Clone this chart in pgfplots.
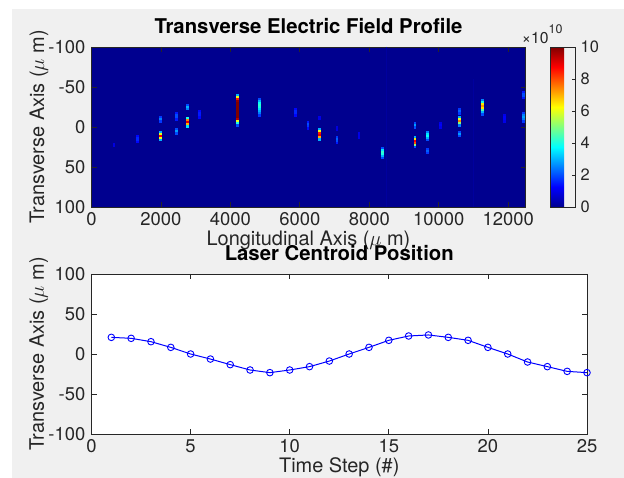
\documentclass[border=0pt]{standalone}
\usepackage{pgfplots}
\pgfplotsset{compat=1.18}
\usepackage{pgfplotstable}
\usepackage{fontspec}
\setmainfont{TeX Gyre Heros}
\definecolor{figgray}{rgb}{0.94,0.94,0.94}
\definecolor{axgray}{rgb}{0.15,0.15,0.15}
\definecolor{jetbg}{RGB}{0,0,143}
\definecolor{faintblue}{RGB}{0,0,158}

\pgfplotstableread{
x y c
640 21 0.9
640 23.5 0.9
1320 11 1.3
1320 13.5 1.6
1320 16 1.6
1320 18.5 1.3
1970 -12 1.8
1970 -9.5 2.5
1970 -7 1.8
1970 6 3
1970 8.5 6
1970 11 8.8
1970 13.5 6
1970 16 3
2430 -17 1.5
2430 -14.5 2
2430 -12 2
2430 -9.5 1.5
2430 3 2
2430 5.5 2.8
2430 8 2
2750 -28 2
2750 -25.5 3
2750 -23 2.5
2750 -11 4
2750 -8.5 7.5
2750 -6 9
2750 -3.5 7
2750 -1 3.5
3110 -20 1.3
3110 -17.5 1.5
3110 -15 1.5
3110 -12.5 1.3
4200 -40 3
4200 -37.5 6
4200 -35 8.5
4200 -32.5 9.8
4200 -30 10
4200 -27.5 10
4200 -25 10
4200 -22.5 10
4200 -20 10
4200 -17.5 10
4200 -15 10
4200 -12.5 10
4200 -10 9.5
4200 -7.5 6
4200 -5 4
4200 -2.5 2
4820 -35 2
4820 -32.5 3
4820 -30 3.8
4820 -27.5 4.2
4820 -25 4
4820 -22.5 3.5
4820 -20 3
4820 -17.5 2.5
4820 -15 1.8
5860 -22 1.3
5860 -19.5 1.6
5860 -17 1.6
5860 -14.5 1.3
6230 -6 1.5
6230 -3.5 2
6230 -1 1.8
6230 1.5 1.3
6560 -13 1
6560 -10.5 1
6560 3 3
6560 5.5 6
6560 8 8.5
6560 10.5 9
6560 13 7
6560 15.5 3
7060 0 0.9
7060 2.5 0.9
7060 12 1.8
7060 14.5 2.2
7060 17 2
7060 19.5 1.5
7700 8 1
7700 10.5 1
7700 13 1
8370 26 2
8370 28.5 3.5
8370 31 4.2
8370 33.5 4
8370 36 3
8370 38.5 2
9310 -4.5 2
9310 -2 2.8
9310 0.5 2
9310 12 3
9310 14.5 6.5
9310 17 8.8
9310 19.5 8
9310 22 5
9310 24.5 2
9675 6 2.5
9675 8.5 3.5
9675 11 3.8
9675 13.5 3
9675 16 2
9675 27 1.8
9675 29.5 2.2
9675 32 1.8
10040 -5 1
10040 -2.5 1.2
10040 0 1
10600 -22.5 1.8
10600 -20 2.2
10600 -17.5 1.8
10600 -12 3
10600 -9.5 6
10600 -7 7.5
10600 -4.5 5
10600 -2 2.5
10600 6 2
10600 8.5 2.8
10600 11 2
11260 -33.5 2.5
11260 -31 4
11260 -28.5 6.5
11260 -26 7.2
11260 -23.5 6.5
11260 -21 4.5
11260 -18.5 3
11260 -16 2
11880 -15 1
11880 -12.5 1.2
11880 -10 1.2
11880 -7.5 1
12430 -44 1.5
12430 -41.5 2
12430 -39 2
12430 -36.5 1.5
12430 -17 1.8
12430 -14.5 2.5
12430 -12 2.8
12430 -9.5 2.5
12430 -7 1.8
}\streaks

\pgfplotstableread{
t pos
1 20.8
2 19.6
3 15.4
4 8.3
5 0
6 -6.3
7 -13.3
8 -20
9 -23.3
10 -20
11 -15.8
12 -8.8
13 0
14 8.3
15 17.1
16 22.5
17 23.8
18 20.8
19 17.1
20 8.3
21 0
22 -10
23 -15.8
24 -21.7
25 -23.3
}\centroid

\pgfplotsset{
  mystyle/.style={
    scale only axis,
    axis line style={axgray, line width=0.8bp},
    tick style={axgray, line width=0.7bp},
    major tick length=5bp,
    tick align=inside,
    tick pos=both,
    /pgf/number format/assume math mode=true,
    /pgf/number format/1000 sep={},
    scaled ticks=false,
    tick label style={font=\fontsize{18.5}{20}\selectfont, text=axgray},
    xticklabel style={inner sep=0pt, anchor=north, yshift=-5.7bp},
    yticklabel style={inner sep=0pt, anchor=east, xshift=-6bp},
    label style={font=\fontsize{20}{22}\selectfont, text=axgray},
    title style={font=\bfseries\fontsize{20.4}{22}\selectfont, anchor=base, text=black},
  }
}

\begin{document}
\begin{tikzpicture}
\path[use as bounding box] (0bp,0bp) rectangle (624bp,478bp);
\fill[white] (0bp,0bp) rectangle (624bp,478bp);
\fill[figgray] (12bp,0bp) rectangle (624bp,469bp);
\begin{axis}[mystyle,
  at={(91.5bp,271bp)}, anchor=south west,
  width=434bp, height=160bp,
  xmin=0, xmax=12500, ymin=-100, ymax=100, y dir=reverse,
  xtick={0,2000,...,12000}, ytick={-100,-50,0,50,100},
  axis background/.style={fill=jetbg},
  colormap={mjet}{rgb255(0cm)=(0,0,143); rgb255(1cm)=(0,0,255); rgb255(3cm)=(0,255,255); rgb255(5cm)=(255,255,0); rgb255(7cm)=(255,0,0); rgb255(8cm)=(128,0,0)},
  point meta min=0, point meta max=10,
  colorbar,
  colorbar style={
    at={(parent axis.north east)}, anchor=north west, xshift=16bp,
    scale only axis, width=25bp, height=160bp,
    axis line style={axgray, line width=0.8bp},
    ytick={0,2,...,10}, xtick=\empty,
    ytick pos=right, yticklabel pos=right,
    tick align=inside, major tick length=3bp,
    tick style={axgray, line width=0.7bp},
    /pgf/number format/assume math mode=true,
    tick label style={font=\fontsize{16.5}{18}\selectfont, text=axgray},
    yticklabel style={inner sep=0pt, anchor=west, xshift=5.5bp},
  },
  title={Transverse Electric Field Profile},
  title style={at={(axis description cs:0.5,1.047)}},
  xlabel={Longitudinal Axis ($\mu$ m)},
  xlabel style={at={(axis description cs:0.5,-0.2375)}, anchor=base},
  ylabel={Transverse Axis ($\mu$ m)},
  ylabel style={at={(axis description cs:-0.1094,0.5)}, anchor=base},
]
\addplot[faintblue, line width=1bp, forget plot] coordinates {(8500,-100) (8500,100)};
\addplot[faintblue, line width=1bp, forget plot] coordinates {(11000,-60) (11000,100)};
\addplot[scatter, only marks, mark=square*, mark size=0.85bp, point meta=explicit,
  scatter/use mapped color={draw=mapped color, fill=mapped color}]
  table[x=x, y=y, meta=c] {\streaks};
\end{axis}
\node[anchor=base west, text=axgray, inner sep=0pt, font=\fontsize{15.8}{17}\selectfont] at (521.7bp,434bp) {×10};
\node[anchor=base west, text=axgray, inner sep=0pt, font=\fontsize{12.5}{13}\selectfont] at (548.5bp,444bp) {10};

\begin{axis}[mystyle,
  at={(91.5bp,44bp)}, anchor=south west,
  width=495.5bp, height=160bp,
  xmin=0, xmax=25, ymin=-100, ymax=100,
  xtick={0,5,...,25}, ytick={-100,-50,0,50,100},
  axis background/.style={fill=white},
  title={Laser Centroid Position},
  title style={at={(axis description cs:0.5,1.047)}},
  xlabel={Time Step (\#)},
  xlabel style={at={(axis description cs:0.5,-0.24375)}, anchor=base},
  ylabel={Transverse Axis ($\mu$ m)},
  ylabel style={at={(axis description cs:-0.0959,0.5)}, anchor=base},
]
\addplot[blue, line width=1bp, mark=o, mark size=3.3bp, mark options={line width=0.9bp}]
  table[x=t, y=pos] {\centroid};
\end{axis}
\end{tikzpicture}
\end{document}
